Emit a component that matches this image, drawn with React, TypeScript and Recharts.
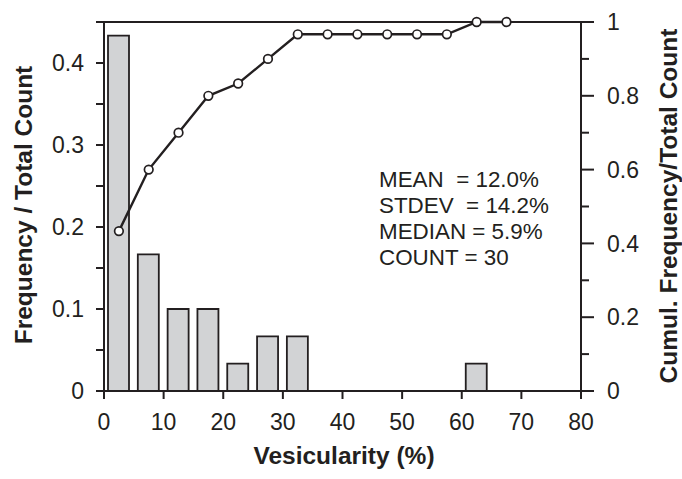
import React from 'react';
import { ComposedChart, Bar, Line, XAxis, YAxis, ReferenceLine, Customized } from 'recharts';

const binCenters = [2.5, 7.5, 12.5, 17.5, 22.5, 27.5, 32.5, 37.5, 42.5, 47.5, 52.5, 57.5, 62.5, 67.5];
const frequency: (number | null)[] = [0.4333, 0.1667, 0.1, 0.1, 0.0333, 0.0667, 0.0667, null, null, null, null, null, 0.0333, null];
const cumulative = [0.4333, 0.6, 0.7, 0.8, 0.8333, 0.9, 0.9667, 0.9667, 0.9667, 0.9667, 0.9667, 0.9667, 1, 1];

const xTicks = [0, 10, 20, 30, 40, 50, 60, 70, 80];
const leftTicks = [0, 0.05, 0.1, 0.15, 0.2, 0.25, 0.3, 0.35, 0.4, 0.45];
const leftLabels = ['0', '', '0.1', '', '0.2', '', '0.3', '', '0.4', ''];
const rightTicks = [0, 0.1, 0.2, 0.3, 0.4, 0.5, 0.6, 0.7, 0.8, 0.9, 1];
const rightLabels = ['0', '', '0.2', '', '0.4', '', '0.6', '', '0.8', '', '1'];

const statsLines = ['MEAN  = 12.0%', 'STDEV  = 14.2%', 'MEDIAN = 5.9%', 'COUNT = 30'];

const data = binCenters.map((x, i) => ({ x, freq: frequency[i], cum: cumulative[i] }));

const FONT = '"Liberation Sans", Arial, Helvetica, sans-serif';
const INK = '#231f20';

const RightTick = (props: any) => {
  const { x, y, index } = props;
  const label = rightLabels[index];
  const len = label ? 13 : 8;
  return (
    <g>
      <line x1={x} x2={x + len} y1={y} y2={y} stroke={INK} strokeWidth={2} />
      {label ? (
        <text x={x + 26} y={y} dy="0.36em" textAnchor="start" fontSize={23} fontFamily={FONT} fill={INK}>
          {label}
        </text>
      ) : null}
    </g>
  );
};

const Dot = (props: any) => {
  const { cx, cy } = props;
  return <circle cx={cx} cy={cy} r={4.3} fill="#ffffff" stroke={INK} strokeWidth={1.7} />;
};

const Annotations = () => (
  <g fontFamily={FONT} fill={INK}>
    <text x={344} y={464} textAnchor="middle" fontSize={24.5} fontWeight="bold">Vesicularity (%)</text>
    <text transform="translate(32,205) rotate(-90)" textAnchor="middle" fontSize={24.5} fontWeight="bold">Frequency / Total Count</text>
    <text transform="translate(677,206) rotate(-90)" textAnchor="middle" fontSize={24.5} fontWeight="bold">Cumul. Frequency/Total Count</text>
    {statsLines.map((s, i) => (
      <text key={i} x={379} y={187 + i * 26} fontSize={22.4} style={{ whiteSpace: 'pre' }}>{s}</text>
    ))}
  </g>
);

export default function App() {
  return (
    <div style={{ position: 'absolute', left: 0, top: 0, width: 682, height: 479, background: '#fff' }}>
      <ComposedChart width={682} height={479} data={data} margin={{ top: 22, right: 0, left: 0, bottom: 0 }}>
        <XAxis
          dataKey="x"
          type="number"
          domain={[0, 80]}
          ticks={xTicks}
          height={88}
          axisLine={{ stroke: INK, strokeWidth: 2 }}
          tickLine={{ stroke: INK, strokeWidth: 2 }}
          tickSize={8}
          tickMargin={15}
          tick={{ fontSize: 23, fontFamily: FONT, fill: INK }}
          interval={0}
        />
        <YAxis
          yAxisId="left"
          orientation="left"
          domain={[0, 0.45]}
          ticks={leftTicks}
          width={104}
          interval={0}
          axisLine={{ stroke: INK, strokeWidth: 2 }}
          tickLine={{ stroke: INK, strokeWidth: 2 }}
          tickSize={8}
          tickMargin={12}
          tickFormatter={(v: number, i: number) => leftLabels[i]}
          tick={{ fontSize: 23, fontFamily: FONT, fill: INK }}
        />
        <YAxis
          yAxisId="right"
          orientation="right"
          domain={[0, 1]}
          ticks={rightTicks}
          width={101}
          interval={0}
          axisLine={{ stroke: INK, strokeWidth: 2 }}
          tickLine={false}
          tickSize={0}
          tickMargin={0}
          tick={<RightTick />}
        />
        <ReferenceLine yAxisId="left" y={0.45} stroke={INK} strokeWidth={2} />
        <Bar yAxisId="left" dataKey="freq" barSize={21} fill="#d2d3d5" stroke={INK} strokeWidth={1.8} isAnimationActive={false} />
        <Line
          yAxisId="right"
          dataKey="cum"
          stroke={INK}
          strokeWidth={2.4}
          dot={<Dot />}
          activeDot={false}
          isAnimationActive={false}
        />
        <Customized component={Annotations} />
      </ComposedChart>
    </div>
  );
}
